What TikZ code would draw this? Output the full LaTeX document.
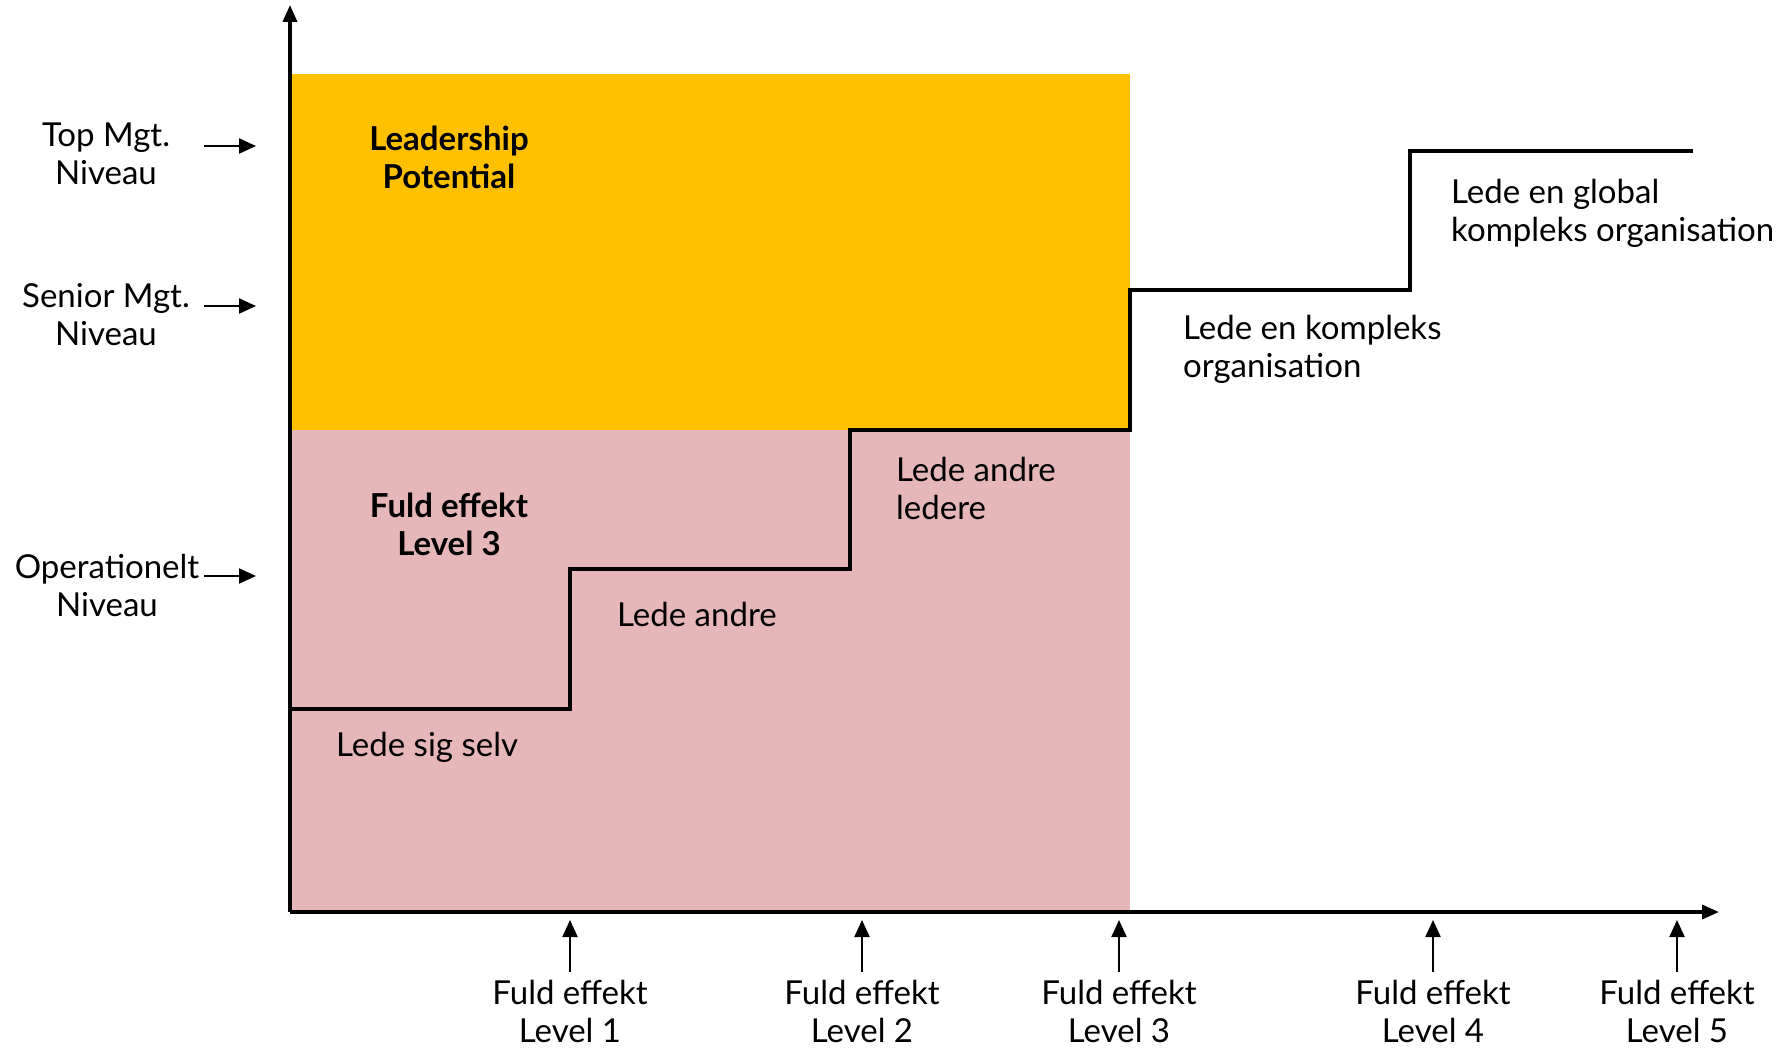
\documentclass[tikz,border=0pt]{standalone}
\usepackage{fontspec}
\setmainfont{Lato}
\usetikzlibrary{arrows.meta}
\definecolor{goldc}{HTML}{FFC000}
\definecolor{pinkc}{HTML}{E5B7B8}
\begin{document}
\begin{tikzpicture}[x=1pt,y=-1pt,
  lbl/.style={font=\fontsize{33}{38}\selectfont, align=center, inner sep=0pt},
  lblb/.style={font=\fontsize{33}{38}\selectfont\bfseries, align=center, inner sep=0pt},
  lbll/.style={font=\fontsize{33}{38}\selectfont, align=left, anchor=west, inner sep=0pt},
  axisline/.style={line width=3.5pt, -{Triangle[length=17pt,width=14pt]}},
  tickarrow/.style={line width=2.2pt, -{Triangle[length=17pt,width=15pt]}},
  stepline/.style={line width=3.5pt, line join=miter}]
\useasboundingbox (0,0) rectangle (1785,1048);
% regions
\fill[goldc] (290,74) rectangle (1130,430);
\fill[pinkc] (290,430) rectangle (1130,912);
% axes
\coordinate (O) at (290,912);
\coordinate (ytop) at (290,5);
\coordinate (xend) at (1719,912);
\draw[axisline] (O) -- (ytop);
\draw[axisline] (O) -- (xend);
% staircase
\draw[stepline] (290,709) -- (570,709) -- (570,569) -- (850,569) -- (850,430)
  -- (1130,430) -- (1130,290) -- (1410,290) -- (1410,151) -- (1693,151);
% region titles
\node[lblb] (lp) at (449,157) {Leadership\\Potential};
\node[lblb] (fe3) at (449,524) {Fuld effekt\\Level 3};
% step labels
\node[lbll] (s1) at (336,747) {Lede sig selv};
\node[lbll] (s2) at (617,614) {Lede andre};
\node[lbll] (s3) at (896,488) {Lede andre\\ledere};
\node[lbll] (s4) at (1183,349) {Lede en kompleks\\organisation};
\node[lbll] (s5) at (1451,213) {Lede en global\\kompleks organisation};
% left labels
\node[lbl] (top) at (106,154) {Top Mgt.\\Niveau};
\node[lbl] (sen) at (106,315) {Senior Mgt.\\Niveau};
\node[lbl] (ope) at (107,585) {Operationelt\\Niveau};
\coordinate (topA) at (204,146); \coordinate (topB) at (256,146);
\coordinate (senA) at (204,306); \coordinate (senB) at (256,306);
\coordinate (opeA) at (204,576); \coordinate (opeB) at (256,576);
\draw[tickarrow] (topA) -- (topB);
\draw[tickarrow] (senA) -- (senB);
\draw[tickarrow] (opeA) -- (opeB);
% bottom labels and arrows
\foreach \n/\x in {1/570,2/862,3/1119,4/1433,5/1677}{
  \node[lbl] (lv\n) at (\x,1011) {Fuld effekt\\Level \n};
  \coordinate (lvA\n) at (\x,972);
  \coordinate (lvB\n) at (\x,920);
  \draw[tickarrow] (lvA\n) -- (lvB\n);
}
\end{tikzpicture}
\end{document}
